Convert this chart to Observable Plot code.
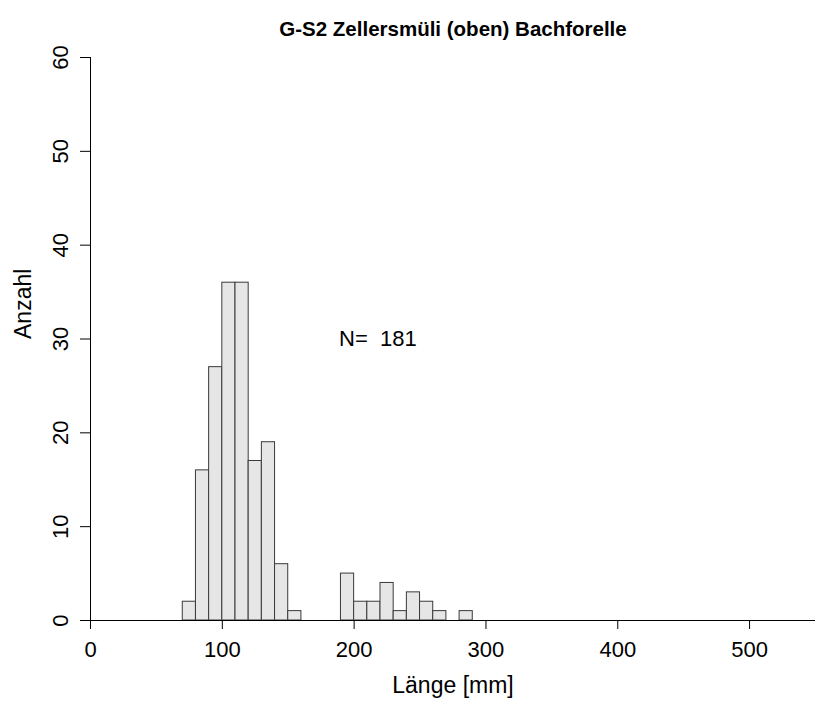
<!DOCTYPE html>
<html>
<head>
<meta charset="utf-8">
<script src="https://cdn.jsdelivr.net/npm/d3@7"></script>
<script src="https://cdn.jsdelivr.net/npm/@observablehq/plot@0.6"></script>
<style>
  html, body { margin: 0; padding: 0; background: #fff; }
  svg { font-family: "Liberation Sans", Arial, sans-serif; }
</style>
</head>
<body>
<div id="chart"></div>
<script>
// Length classes (10 mm bins) and fish counts per class
const binStart = [70, 80, 90, 100, 110, 120, 130, 140, 150, 160, 170, 180, 190, 200, 210, 220, 230, 240, 250, 260, 270, 280];
const counts   = [ 2, 16, 27,  36,  36,  17,  19,   6,   1,   0,   0,   0,   5,   2,   2,   4,   1,   3,   2,   1,   0,   1];
const binWidth = 10;
const xTicks = [0, 100, 200, 300, 400, 500];
const yTicks = [0, 10, 20, 30, 40, 50, 60];
const title = "G-S2 Zellersmüli (oben) Bachforelle";
const xLabel = "Länge [mm]";
const yLabel = "Anzahl";
const total = d3.sum(counts);

const bins = binStart
  .map((x0, i) => ({x1: x0, x2: x0 + binWidth, n: counts[i]}))
  .filter(d => d.n > 0);

const chart = Plot.plot({
  width: 817,
  height: 704,
  marginLeft: 90,
  marginRight: 2,
  marginTop: 57,
  marginBottom: 84,
  style: {fontFamily: "Liberation Sans, Arial, sans-serif", background: "#fff"},
  x: {domain: [0, 550]},
  y: {domain: [0, 60]},
  marks: [
    Plot.rectY(bins, {x1: "x1", x2: "x2", y: "n", fill: "#e6e6e6", stroke: "#3a3a3a", strokeWidth: 1}),
    Plot.ruleY([0], {stroke: "#000", strokeWidth: 1.2}),
    Plot.axisX({ticks: xTicks, tickSize: 9, tickPadding: 12, fontSize: 22, label: null, stroke: "#000", fill: "#000"}),
    // y ticks, then the rotated y tick labels
    Plot.axisY({ticks: yTicks, tickSize: 10, tickFormat: () => "", label: null, stroke: "#000"}),
    Plot.axisY({ticks: yTicks, tickSize: 0, tickPadding: 30, fontSize: 22, label: null,
                rotate: -90, textAnchor: "middle", fill: "#000"}),
    Plot.ruleX([0], {y1: 0, y2: 60, stroke: "#000"}),
    Plot.text([title], {frameAnchor: "top", dy: -36, fontSize: 20.5, fontWeight: "bold", fill: "#000"}),
    Plot.text([xLabel], {frameAnchor: "bottom", dy: 72, fontSize: 23, fill: "#000"}),
    Plot.text([yLabel], {frameAnchor: "left", dx: -67, rotate: -90, fontSize: 23, fill: "#000"}),
    Plot.text([`N=  ${total}`], {x: 218, y: 30, fontSize: 22, fill: "#000"})
  ]
});
document.getElementById("chart").append(chart);
</script>
</body>
</html>
